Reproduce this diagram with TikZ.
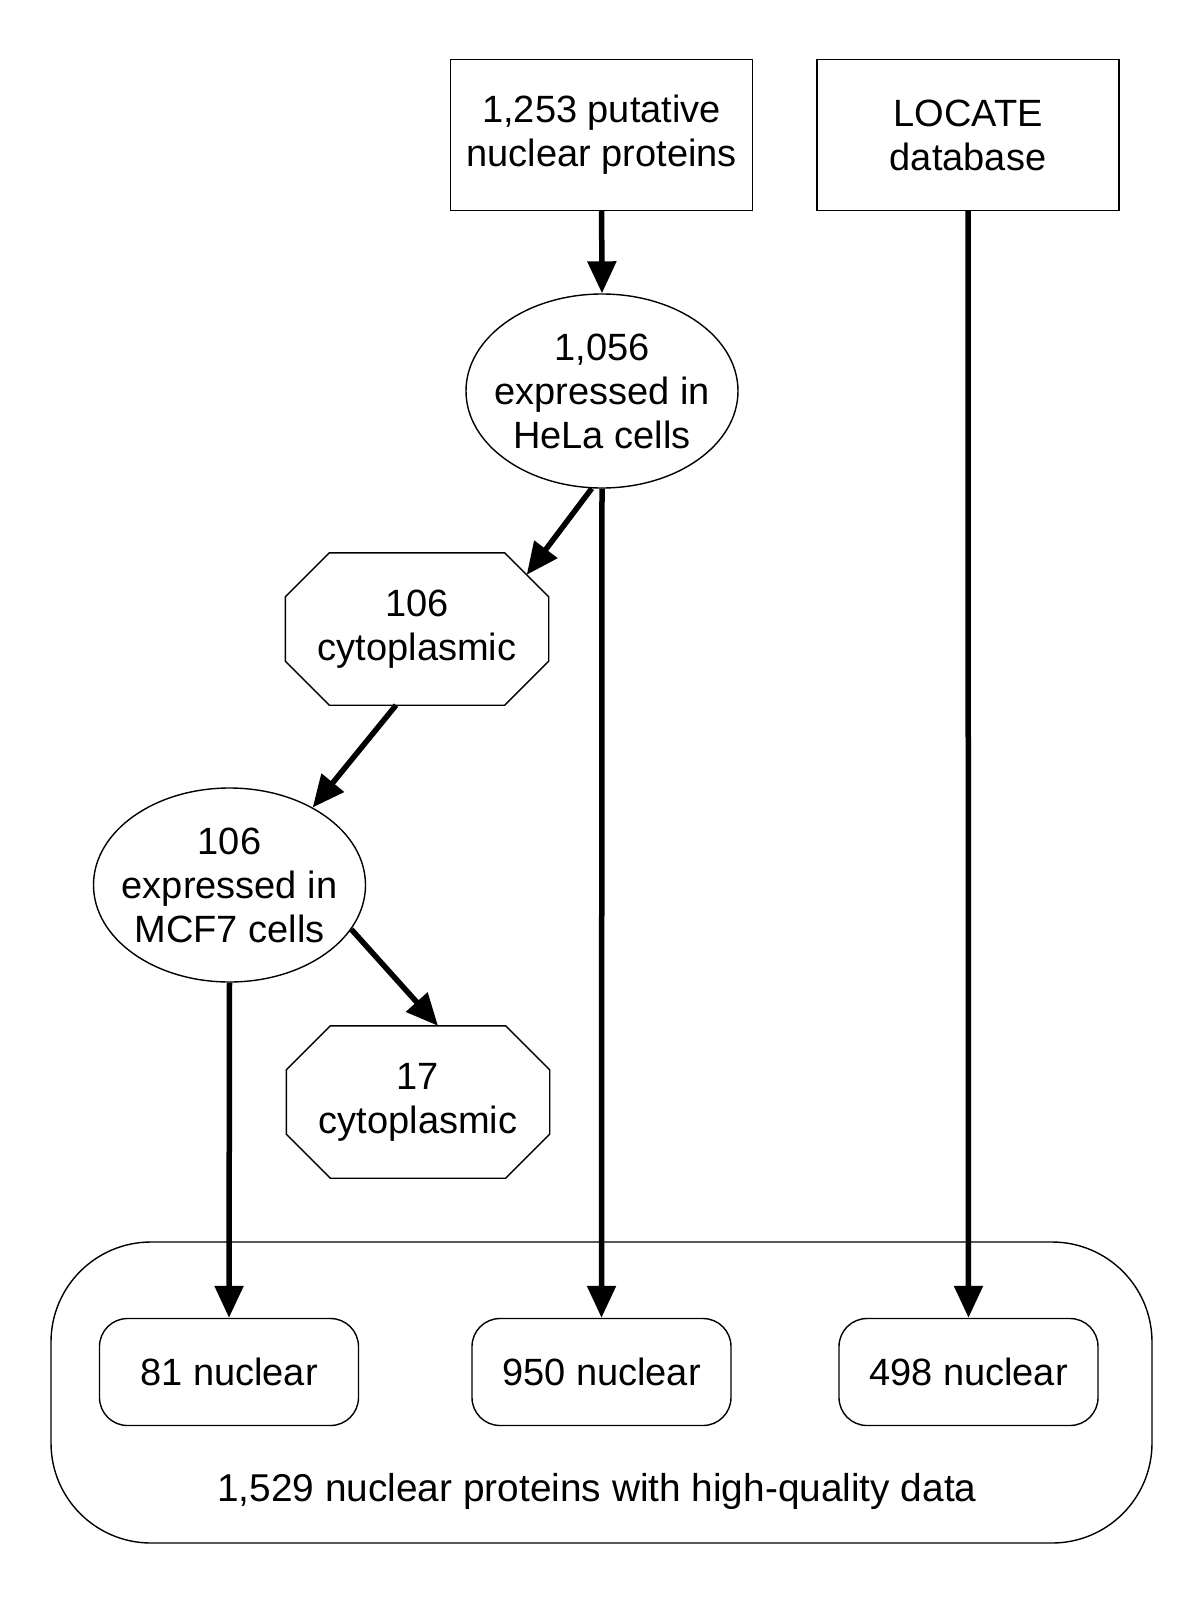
\documentclass[tikz,border=0pt]{standalone}
\usepackage{fontspec}
\setmainfont{Liberation Sans}
\usepackage{tikz}
\usetikzlibrary{arrows.meta,shapes.geometric}

\begin{document}
\begin{tikzpicture}
[
x=1pt,y=-1pt,
every node/.style={font=\fontsize{38}{44}\selectfont,align=center,line width=1.4pt},
srcbox/.style={draw,rectangle,minimum width=302pt,minimum height=151pt},
cellset/.style={draw,ellipse,inner sep=-14pt,minimum width=272pt,minimum height=194pt},
cytobox/.style={rectangle,inner sep=0pt,minimum width=262pt,minimum height=151pt},
nucbox/.style={draw,rounded corners=28pt,minimum width=259pt,minimum height=107pt},
flow/.style={-{Triangle[length=32pt,width=28pt]},line width=5.5pt},
]
\useasboundingbox (0,0) rectangle (1200,1606);

%Place the nodes
\node[srcbox] (putative) at (601.6,135) {1,253 putative\\nuclear proteins};
\node[srcbox] (locate) at (968,135) {LOCATE\\database};
\node[cellset] (hela) at (602,391) {1,056\\expressed in\\HeLa cells};
\node[cytobox] (cyto1) at (417,629) {106\\cytoplasmic};
\node[cellset] (mcf7) at (229.5,885) {106\\expressed in\\MCF7 cells};
\node[cytobox] (cyto2) at (418,1102) {17\\cytoplasmic};
\node[draw,rounded corners=100pt,minimum width=1101pt,minimum height=301pt] (hq) at (601.5,1392.5) {};
\node[nucbox] (n81) at (229,1372) {81 nuclear};
\node[nucbox] (n950) at (601.5,1372) {950 nuclear};
\node[nucbox] (n498) at (968.5,1372) {498 nuclear};
\node[font=\fontsize{38.8}{44}\selectfont] (hqtext) at (597,1491) {1,529 nuclear proteins with high-quality data};

%Octagon outlines round the cytoplasmic nodes
\foreach \c in {cyto1,cyto2}
  \draw[line width=1.4pt] ([xshift=44pt]\c.north west) -- ([xshift=-44pt]\c.north east)
    -- ([yshift=-44pt]\c.north east) -- ([yshift=44pt]\c.south east)
    -- ([xshift=-44pt]\c.south east) -- ([xshift=44pt]\c.south west)
    -- ([yshift=44pt]\c.south west) -- ([yshift=-44pt]\c.north west) -- cycle;

%Draw the connections
\draw[flow] (putative.south) -- (hela.north);
\draw[flow] (hela.264) -- ([xshift=-22pt,yshift=-22pt]cyto1.north east);
\draw[flow] ([xshift=-21pt]cyto1.south) -- (mcf7.43);
\draw[flow] (mcf7.-20) -- ([xshift=20pt]cyto2.north);
\draw[flow] (mcf7.south) -- (n81.north);
\draw[flow] (hela.south) -- (n950.north);
\draw[flow] (locate.south) -- (n498.north);
\end{tikzpicture}
\end{document}
